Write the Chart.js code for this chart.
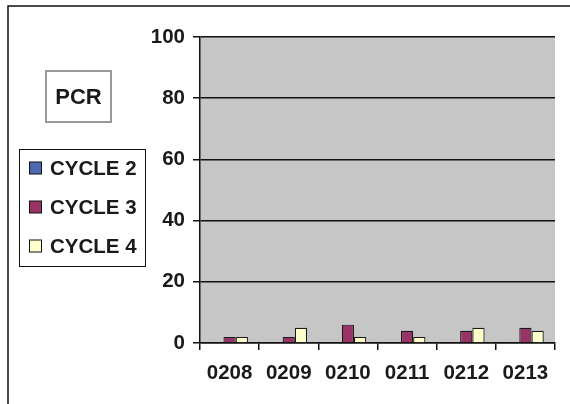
<!DOCTYPE html>
<html>
<head>
<meta charset="utf-8">
<script src="https://cdn.jsdelivr.net/npm/chart.js@4"></script>
<style>
  html, body { margin: 0; padding: 0; background: #ffffff; }
  #wrap { position: relative; width: 570px; height: 404px; }
</style>
</head>
<body>
<div id="wrap"><canvas id="c" width="570" height="404"></canvas></div>
<script>
// Sample categories and cycle results
const categories = ['0208', '0209', '0210', '0211', '0212', '0213'];
const cycle2 = [0, 0, 0, 0, 0, 0];
const cycle3 = [2, 2, 6, 4, 4, 5];
const cycle4 = [2, 5, 2, 2, 5, 4];
const seriesNames = ['CYCLE 2', 'CYCLE 3', 'CYCLE 4'];
const yTicks = [0, 20, 40, 60, 80, 100];
const chartTitle = 'PCR';

const colors = ['#4e68b6', '#993366', '#ffffcc'];
const FONT = 'Arial, "Liberation Sans", sans-serif';
const TEXT = '#1a1a1a';

// Grey plot background, outer frame, title box and legend box
const decorations = {
  id: 'decorations',
  beforeDraw(chart) {
    const { ctx, chartArea: a } = chart;
    ctx.save();
    ctx.fillStyle = '#c6c6c6';
    ctx.fillRect(a.left, a.top, a.right - a.left, a.bottom - a.top);
    ctx.restore();
  },
  afterDraw(chart) {
    const ctx = chart.ctx;
    ctx.save();
    // outer frame (left and top edges visible)
    ctx.strokeStyle = '#111';
    ctx.lineWidth = 1.5;
    ctx.beginPath();
    ctx.moveTo(8, 410);
    ctx.lineTo(8, 6);
    ctx.lineTo(580, 6);
    ctx.stroke();

    // title box
    ctx.strokeStyle = '#999';
    ctx.lineWidth = 2;
    ctx.strokeRect(46, 71, 65, 51);
    ctx.fillStyle = TEXT;
    ctx.font = 'bold 22px ' + FONT;
    ctx.textAlign = 'center';
    ctx.textBaseline = 'middle';
    ctx.fillText(chartTitle, 78.5, 97.5);

    // legend box
    ctx.strokeStyle = '#111';
    ctx.lineWidth = 1;
    ctx.strokeRect(19.5, 149.5, 126, 117);
    ctx.textAlign = 'left';
    ctx.font = 'bold 20.5px ' + FONT;
    chart.data.datasets.forEach((ds, i) => {
      const cy = 168 + i * 39;
      ctx.fillStyle = ds.backgroundColor;
      ctx.fillRect(29.5, cy - 6, 12, 12);
      ctx.strokeStyle = '#111';
      ctx.strokeRect(29.5, cy - 6, 12, 12);
      ctx.fillStyle = TEXT;
      ctx.fillText(ds.label, 50, cy + 1);
    });
    ctx.restore();
  }
};

new Chart(document.getElementById('c'), {
  type: 'bar',
  data: {
    labels: categories,
    datasets: [
      { label: seriesNames[0], data: cycle2, backgroundColor: colors[0] },
      { label: seriesNames[1], data: cycle3, backgroundColor: colors[1] },
      { label: seriesNames[2], data: cycle4, backgroundColor: colors[2] }
    ].map(d => Object.assign(d, {
      borderColor: '#1a1a1a',
      borderWidth: 1.2,
      borderSkipped: 'start',
      categoryPercentage: 0.62,
      barPercentage: 1.0
    }))
  },
  options: {
    responsive: false,
    animation: false,
    devicePixelRatio: 1,
    layout: { padding: { left: 0, top: 37, right: 15, bottom: 0 } },
    plugins: {
      legend: { display: false },
      title: { display: false },
      tooltip: { enabled: false }
    },
    scales: {
      x: {
        afterFit(scale) { scale.height = 61; },
        border: { display: true, color: '#111', width: 1.5 },
        grid: {
          display: true,
          drawOnChartArea: false,
          drawTicks: true,
          tickLength: 7,
          color: '#111',
          lineWidth: 1.5,
          offset: true
        },
        ticks: {
          color: TEXT,
          font: { family: FONT, size: 20.5, weight: 'bold' },
          padding: 11,
          maxRotation: 0,
          autoSkip: false
        }
      },
      y: {
        min: 0,
        max: 100,
        afterFit(scale) { scale.width = 200; },
        afterBuildTicks(scale) { scale.ticks = yTicks.map(v => ({ value: v })); },
        border: { display: true, color: '#111', width: 1.5 },
        grid: {
          color: '#111',
          lineWidth: 1.5,
          drawTicks: true,
          tickLength: 7
        },
        ticks: {
          color: TEXT,
          font: { family: FONT, size: 20.5, weight: 'bold' },
          padding: 8
        }
      }
    }
  },
  plugins: [decorations]
});
</script>
</body>
</html>
